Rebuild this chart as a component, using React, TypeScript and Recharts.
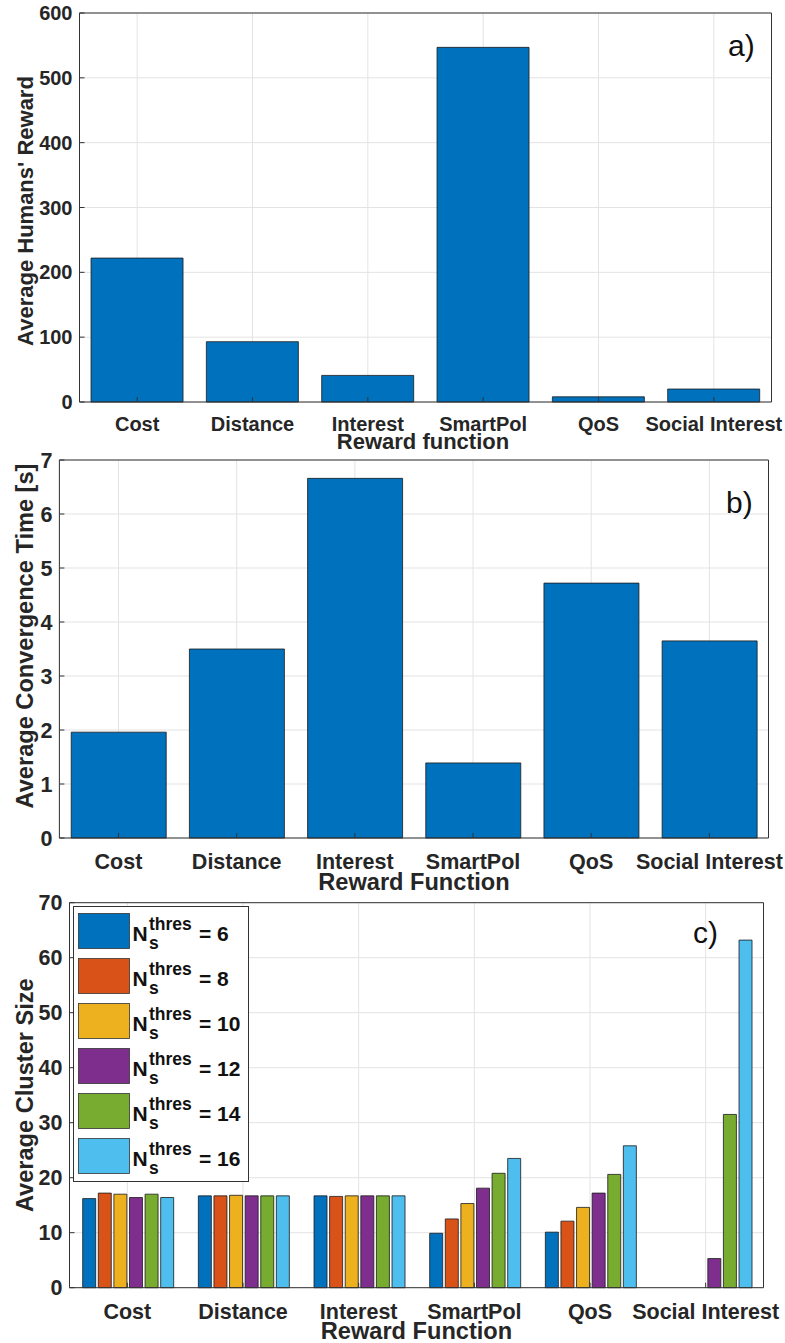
import React from "react";
import { BarChart, Bar, XAxis, YAxis, CartesianGrid, Legend, Label } from "recharts";

const categories = ["Cost", "Distance", "Interest", "SmartPol", "QoS", "Social Interest"];

// panel a
const humansReward = [222, 93, 41, 547, 8, 20];
const rewardTicks = [0, 100, 200, 300, 400, 500, 600];

// panel b
const convergenceTime = [1.96, 3.5, 6.66, 1.39, 4.72, 3.65];
const timeTicks = [0, 1, 2, 3, 4, 5, 6, 7];

// panel c
const thresholds = [6, 8, 10, 12, 14, 16];
const clusterN6 = [16.2, 16.7, 16.7, 9.9, 10.1, 0];
const clusterN8 = [17.2, 16.7, 16.6, 12.5, 12.1, 0];
const clusterN10 = [17.0, 16.8, 16.7, 15.3, 14.6, 0];
const clusterN12 = [16.4, 16.7, 16.7, 18.1, 17.2, 5.3];
const clusterN14 = [17.0, 16.7, 16.7, 20.8, 20.6, 31.5];
const clusterN16 = [16.4, 16.7, 16.7, 23.5, 25.8, 63.2];
const clusterTicks = [0, 10, 20, 30, 40, 50, 60, 70];
const clusterColors = ["#0072BD", "#D95319", "#EDB120", "#7E2F8E", "#77AC30", "#4DBEEE"];

const clusterSeries = [clusterN6, clusterN8, clusterN10, clusterN12, clusterN14, clusterN16];

const data = categories.map((name, i) => {
  const row: any = { name, reward: humansReward[i], time: convergenceTime[i] };
  thresholds.forEach((t, k) => {
    row["n" + t] = clusterSeries[k][i];
  });
  return row;
});

const FONT = '"Liberation Sans", Arial, Helvetica, sans-serif';
const TEXT = "#262626";
const AXIS = "#333333";
const GRID = "#e3e3e3";
const EDGE = "#1a1a1a";

// rotated y title, baseline ~33px from the left edge
const yTitle = (text: string, size: number, dy: number) => (props: any) => {
  const vb = props.viewBox;
  const cx = vb.x + 33;
  const cy = vb.y + vb.height / 2 + dy;
  return (
    <text
      x={cx}
      y={cy}
      transform={`rotate(-90 ${cx} ${cy})`}
      textAnchor="middle"
      fontSize={size}
      fontWeight="bold"
      fill={TEXT}
    >
      {text}
    </text>
  );
};

const xTitle = (text: string, size: number, dx: number, dy: number) => (props: any) => {
  const vb = props.viewBox;
  return (
    <text
      x={vb.x + vb.width / 2 + dx}
      y={vb.y + dy}
      textAnchor="middle"
      fontSize={size}
      fontWeight="bold"
      fill={TEXT}
    >
      {text}
    </text>
  );
};

// panel letter, placed from the top-right corner of the plot
const panelTag = (text: string, fromRight: number, down: number) => (props: any) => {
  const vb = props.viewBox;
  return (
    <text x={vb.x + vb.width - fromRight} y={vb.y + 1 + down} fontSize={30} fill="#111">
      {text}
    </text>
  );
};

const renderLegend = (props: any) => {
  // legend sorts by value as text; put it back in threshold order
  const payload = [...(props.payload || [])].sort(
    (a: any, b: any) => thresholds.indexOf(Number(a.value)) - thresholds.indexOf(Number(b.value))
  );
  return (
    <svg width={177} height={277} style={{ display: "block" }}>
      <rect x={0.5} y={0.5} width={175} height={275} fill="#fff" stroke={AXIS} strokeWidth={1} />
      {payload.map((entry: any, i: number) => (
        <g key={entry.value} fontFamily={FONT} fontWeight="bold" fill="#111">
          <rect
            x={5.5}
            y={7.5 + 45 * i}
            width={51}
            height={35}
            fill={entry.color}
            stroke={AXIS}
            strokeWidth={0.8}
          />
          <text x={59.5} y={35 + 45 * i} fontSize={21}>
            N
          </text>
          <text x={76} y={23.5 + 45 * i} fontSize={17.5}>
            thres
          </text>
          <text x={76} y={43 + 45 * i} fontSize={17.5}>
            s
          </text>
          <text x={126} y={35 + 45 * i} fontSize={21}>
            = {entry.value}
          </text>
        </g>
      ))}
    </svg>
  );
};

interface FrameProps {
  ticks: number[];
  tickFont: number;
  yWidth: number;
  xHeight: number;
  xMargin: number;
}

// shared axes: left/bottom with labels, top/right for the box, ticks pointing inward
const frame = (p: FrameProps, yLabel: any, xLabel: any, tag: any) => {
  const tickStyle = { fill: TEXT, fontSize: p.tickFont, fontWeight: "bold" as const };
  const max = p.ticks[p.ticks.length - 1];
  return [
    <CartesianGrid key="grid" stroke={GRID} strokeWidth={1} />,
    <XAxis
      key="xb"
      dataKey="name"
      interval={0}
      height={p.xHeight}
      stroke={AXIS}
      tickSize={-5}
      tickMargin={p.xMargin}
      tick={tickStyle}
    >
      <Label content={xLabel} />
    </XAxis>,
    <XAxis
      key="xt"
      xAxisId="top"
      orientation="top"
      dataKey="name"
      height={1}
      stroke={AXIS}
      tick={false}
      tickSize={-5}
    >
      <Label content={tag} />
    </XAxis>,
    <YAxis
      key="yl"
      type="number"
      domain={[0, max]}
      ticks={p.ticks}
      width={p.yWidth}
      stroke={AXIS}
      tickSize={-5}
      tickMargin={12}
      tick={tickStyle}
      interval={0}
    >
      <Label content={yLabel} />
    </YAxis>,
    <YAxis
      key="yr"
      yAxisId="right"
      orientation="right"
      type="number"
      domain={[0, max]}
      ticks={p.ticks}
      width={1}
      stroke={AXIS}
      tick={false}
      tickSize={-5}
    />,
  ];
};

export default function App() {
  return (
    <div
      style={{
        position: "absolute",
        left: 0,
        top: 0,
        width: 785,
        height: 1343,
        background: "#fff",
        fontFamily: FONT,
      }}
    >
      {/* a) */}
      <div style={{ position: "absolute", left: 0, top: 0 }}>
        <BarChart
          width={785}
          height={455}
          data={data}
          margin={{ top: 12, right: 12.5, left: 0, bottom: 0 }}
          barCategoryGap="10%"
        >
          {frame(
            { ticks: rewardTicks, tickFont: 20, yWidth: 79.5, xHeight: 53, xMargin: 20 },
            yTitle("Average Humans' Reward", 22, 3.5),
            xTitle("Reward function", 22, -2.5, 47),
            panelTag("a)", 43.5, 43)
          )}
          <Bar dataKey="reward" fill="#0072BD" stroke={EDGE} strokeWidth={0.8} isAnimationActive={false} />
        </BarChart>
      </div>

      {/* b) */}
      <div style={{ position: "absolute", left: 0, top: 450 }}>
        <BarChart
          width={785}
          height={446}
          data={data}
          margin={{ top: 9, right: 15.5, left: 0, bottom: 0 }}
          barCategoryGap="10%"
        >
          {frame(
            { ticks: timeTicks, tickFont: 21.5, yWidth: 59.4, xHeight: 58, xMargin: 20.4 },
            yTitle("Average Convergence Time [s]", 23.6, -13),
            xTitle("Reward Function", 23.6, 0, 52),
            panelTag("b)", 42.5, 52.7)
          )}
          <Bar dataKey="time" fill="#0072BD" stroke={EDGE} strokeWidth={0.8} isAnimationActive={false} />
        </BarChart>
      </div>

      {/* c) */}
      <div style={{ position: "absolute", left: 0, top: 890 }}>
        <BarChart
          width={785}
          height={453}
          data={data}
          margin={{ top: 11.7, right: 20.5, left: 0, bottom: 0 }}
          barCategoryGap="11.4%"
          barGap={2.6}
        >
          {frame(
            { ticks: clusterTicks, tickFont: 21.5, yWidth: 69.5, xHeight: 55.3, xMargin: 20.7 },
            yTitle("Average Cluster Size", 23.6, 0),
            xTitle("Reward Function", 23.6, 0, 51),
            panelTag("c)", 70.5, 40.6)
          )}
          <Legend
            layout="vertical"
            align="center"
            verticalAlign="middle"
            content={renderLegend}
            wrapperStyle={{ left: 73, top: 16, width: 177, height: 277 }}
          />
          {thresholds.map((t, k) => (
            <Bar
              key={t}
              dataKey={"n" + t}
              name={String(t)}
              fill={clusterColors[k]}
              stroke={EDGE}
              strokeWidth={0.8}
              isAnimationActive={false}
            />
          ))}
        </BarChart>
      </div>
    </div>
  );
}
